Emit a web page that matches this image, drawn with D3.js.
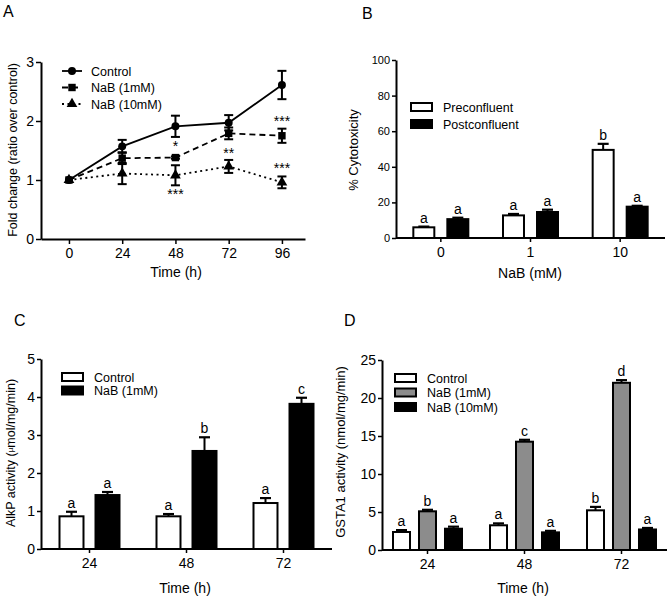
<!DOCTYPE html>
<html lang="en">
<head>
<meta charset="utf-8">
<title>NaB panels</title>
<script src="https://d3js.org/d3.v7.min.js"></script>
<style>
  body { margin: 0; background: #fff; }
  text { font-family: "Liberation Sans", Arial, sans-serif; fill: #000; }
  .axis path, .axis line { stroke: #000; }
  .axis path { stroke-width: 2px; }
  .axis line { stroke-width: 1.5px; }
</style>
</head>
<body>
<script>
// ---- Panel A: fold change over time
var timesA = [0, 24, 48, 72, 96];
var ctrlA = [1, 1.57, 1.91, 1.97, 2.61];
var ctrlErrA = [0, 0.11, 0.18, 0.13, 0.24];
var nab1A = [1, 1.37, 1.38, 1.79, 1.75];
var nab1ErrA = [0, 0.1, 0.02, 0.1, 0.12];
var nab10A = [1, 1.11, 1.08, 1.23, 0.96];
var nab10ErrA = [0, 0.18, 0.17, 0.11, 0.1];
var starsA = [[48, 1.61, "*"], [72, 1.49, "**"], [96, 2.03, "***"], [48, 0.8, "***"], [96, 1.24, "***"]];

// ---- Panel B: cytotoxicity
var catsB = ["0", "1", "10"];
var seriesB = ["Preconfluent", "Postconfluent"];
var preB = [6.0, 12.7, 49.5];
var preErrB = [0.4, 0.8, 3.4];
var postB = [10.6, 14.6, 17.6];
var postErrB = [0.8, 1.3, 0.5];
var lettersB = [["a", "a", "b"], ["a", "a", "a"]];

// ---- Panel C: AlkP activity
var catsC = ["24", "48", "72"];
var seriesC = ["Control", "NaB (1mM)"];
var ctrlC = [0.86, 0.86, 1.21];
var ctrlErrC = [0.12, 0.06, 0.13];
var nabC = [1.42, 2.58, 3.82];
var nabErrC = [0.08, 0.36, 0.16];
var lettersC = [["a", "a", "a"], ["a", "b", "c"]];

// ---- Panel D: GSTA1 activity
var catsD = ["24", "48", "72"];
var seriesD = ["Control", "NaB (1mM)", "NaB (10mM)"];
var ctrlD = [2.37, 3.25, 5.22];
var ctrlErrD = [0.25, 0.25, 0.45];
var nab1D = [5.09, 14.25, 22.0];
var nab1ErrD = [0.2, 0.25, 0.35];
var nab10D = [2.8, 2.32, 2.7];
var nab10ErrD = [0.27, 0.2, 0.2];
var lettersD = [["a", "a", "b"], ["b", "c", "d"], ["a", "a", "a"]];

var svg = d3.select("body").append("svg")
  .attr("width", 670)
  .attr("height", 600);

function panelLabel(t, x, y) {
  svg.append("text").attr("x", x).attr("y", y)
    .style("font-size", "16px").text(t);
}

function yTitle(t, x, y, size) {
  return svg.append("text")
    .attr("transform", "translate(" + x + "," + y + ") rotate(-90)")
    .attr("text-anchor", "middle")
    .style("font-size", size + "px")
    .text(t);
}

function xTitle(t, x, y) {
  svg.append("text").attr("x", x).attr("y", y)
    .attr("text-anchor", "middle")
    .style("font-size", "14px").text(t);
}

function styleAxis(g, size) {
  g.attr("class", "axis");
  g.selectAll("text").style("font-size", size + "px");
}

// ================= A =================
panelLabel("A", 3, 17);
var xA = d3.scaleLinear().domain([-12.6, 106.4]).range([41, 305]);
var yA = d3.scaleLinear().domain([0, 3]).range([239, 62]);

svg.append("g").attr("transform", "translate(0,239)")
  .call(d3.axisBottom(xA).tickValues(timesA).tickSize(5).tickSizeOuter(0).tickPadding(4))
  .call(styleAxis, 14);
svg.append("g").attr("transform", "translate(41,0)")
  .call(d3.axisLeft(yA).tickValues([0, 1, 2, 3]).tickSize(5).tickSizeOuter(0).tickPadding(2).tickFormat(d3.format("d")))
  .call(styleAxis, 14);
yTitle("Fold change (ratio over control)", 17, 150, 12.5);
xTitle("Time (h)", 176, 277);

var linesA = [
  { name: "Control", vals: ctrlA, errs: ctrlErrA, dash: null, shape: d3.symbolCircle, size: 50 },
  { name: "NaB (1mM)", vals: nab1A, errs: nab1ErrA, dash: "6,4", shape: d3.symbolSquare, size: 55 },
  { name: "NaB (10mM)", vals: nab10A, errs: nab10ErrA, dash: "2,3.5", shape: d3.symbolTriangle, size: 50 }
];
var lineGen = d3.line().x(function(d) { return xA(d[0]); }).y(function(d) { return yA(d[1]); });

linesA.slice().reverse().forEach(function(s) {
  var pts = timesA.map(function(t, i) { return [t, s.vals[i], s.errs[i]]; });
  svg.append("path").datum(pts)
    .attr("d", lineGen)
    .attr("fill", "none").attr("stroke", "#000").attr("stroke-width", 1.8)
    .attr("stroke-dasharray", s.dash);
  pts.forEach(function(p) {
    if (p[2] > 0) {
      var x = xA(p[0]), y1 = yA(p[1] - p[2]), y2 = yA(p[1] + p[2]);
      svg.append("line").attr("x1", x).attr("x2", x).attr("y1", y1).attr("y2", y2)
        .attr("stroke", "#000").attr("stroke-width", 2);
      [y1, y2].forEach(function(yy) {
        svg.append("line").attr("x1", x - 4.5).attr("x2", x + 4.5).attr("y1", yy).attr("y2", yy)
          .attr("stroke", "#000").attr("stroke-width", 2);
      });
    }
    svg.append("path")
      .attr("d", d3.symbol().type(s.shape).size(s.size))
      .attr("transform", "translate(" + xA(p[0]) + "," + yA(p[1]) + ")")
      .attr("fill", "#000");
  });
});

starsA.forEach(function(s) {
  svg.append("text").attr("x", xA(s[0])).attr("y", yA(s[1]) + 7)
    .attr("text-anchor", "middle").style("font-size", "14px").text(s[2]);
});

// legend A
linesA.forEach(function(s, i) {
  var ly = 71 + i * 16.5;
  svg.append("line").attr("x1", 62).attr("x2", 82).attr("y1", ly).attr("y2", ly)
    .attr("stroke", "#000").attr("stroke-width", 1.8).attr("stroke-dasharray", s.dash);
  svg.append("path").attr("d", d3.symbol().type(s.shape).size(s.size))
    .attr("transform", "translate(72," + ly + ")").attr("fill", "#000");
  svg.append("text").attr("x", 91).attr("y", ly + 4.5).style("font-size", "12.5px").text(s.name);
});

// ================= bar panels =================
function barPanel(opt) {
  var x = d3.scaleBand().domain(opt.cats).range(opt.xRange);
  var inner = d3.scaleBand().domain(opt.series).range(opt.innerRange).paddingInner(opt.pad);
  var y = d3.scaleLinear().domain(opt.yDomain).range(opt.yRange);

  var gx = svg.append("g").attr("transform", "translate(0," + opt.yRange[0] + ")")
    .call(d3.axisBottom(x).tickSize(4).tickSizeOuter(0).tickPadding(5))
    .call(styleAxis, 14);
  gx.select(".domain").attr("d", "M" + opt.axisX[0] + ",0H" + opt.axisX[1]);
  svg.append("g").attr("transform", "translate(" + opt.axisX[0] + ",0)")
    .call(d3.axisLeft(y).tickValues(opt.yTicks).tickSize(4).tickSizeOuter(0).tickPadding(2)
      .tickFormat(d3.format("d")))
    .call(styleAxis, opt.yTickSize);

  opt.series.forEach(function(s, si) {
    opt.cats.forEach(function(c, ci) {
      var v = opt.vals[si][ci], e = opt.errs[si][ci];
      var bx = x(c) + x.bandwidth() / 2 + inner(s);
      var bw = inner.bandwidth();
      var cx = bx + bw / 2;
      // error bar (upper only)
      svg.append("line").attr("x1", cx).attr("x2", cx).attr("y1", y(v)).attr("y2", y(v + e))
        .attr("stroke", "#000").attr("stroke-width", 2);
      svg.append("line").attr("x1", cx - 5.5).attr("x2", cx + 5.5).attr("y1", y(v + e)).attr("y2", y(v + e))
        .attr("stroke", "#000").attr("stroke-width", 2.2);
      svg.append("rect")
        .attr("x", bx + 1).attr("y", y(v))
        .attr("width", bw - 2).attr("height", y(0) - y(v))
        .attr("fill", opt.fills[si]).attr("stroke", "#000").attr("stroke-width", 2);
      svg.append("text").attr("x", cx).attr("y", y(v + e) - 4)
        .attr("text-anchor", "middle").style("font-size", "14px")
        .text(opt.letters[si][ci]);
    });
  });

  opt.series.forEach(function(s, si) {
    var ly = opt.legend[1] + si * opt.legend[2];
    svg.append("rect").attr("x", opt.legend[0]).attr("y", ly - 4)
      .attr("width", 21).attr("height", 8)
      .attr("fill", opt.fills[si]).attr("stroke", "#000").attr("stroke-width", 2);
    svg.append("text").attr("x", opt.legend[0] + 32).attr("y", ly + 4.5)
      .style("font-size", "12.5px").text(s);
  });
  return { x: x, y: y };
}

// ================= B =================
panelLabel("B", 362, 19);
barPanel({
  cats: catsB, series: seriesB,
  vals: [preB, postB], errs: [preErrB, postErrB], letters: lettersB,
  fills: ["#fff", "#000"],
  xRange: [396, 665], axisX: [396, 665], innerRange: [-28.5, 28.5], pad: 0.324,
  yDomain: [0, 100], yRange: [238, 60], yTicks: [0, 20, 40, 60, 80, 100], yTickSize: 11,
  legend: [411, 107, 17]
});
yTitle("% Cytotoxicity", 358, 150, 13);
xTitle("NaB (mM)", 530, 278);

// ================= C =================
panelLabel("C", 14, 326);
barPanel({
  cats: catsC, series: seriesC,
  vals: [ctrlC, nabC], errs: [ctrlErrC, nabErrC], letters: lettersC,
  fills: ["#fff", "#000"],
  xRange: [41, 332], axisX: [41, 332], innerRange: [-31, 31], pad: 0.278,
  yDomain: [0, 5], yRange: [549, 359], yTicks: [0, 1, 2, 3, 4, 5], yTickSize: 14,
  legend: [62, 377, 13.5]
});
var tC = yTitle("AlkP activity (", 15, 453, 12.5);
tC.append("tspan").style("font-size", "8px").attr("baseline-shift", "30%").text("µ");
tC.append("tspan").text("mol/mg/min)");
xTitle("Time (h)", 185, 593);

// ================= D =================
panelLabel("D", 344, 326);
barPanel({
  cats: catsD, series: seriesD,
  vals: [ctrlD, nab1D, nab10D], errs: [ctrlErrD, nab1ErrD, nab10ErrD], letters: lettersD,
  fills: ["#fff", "#8c8c8c", "#000"],
  xRange: [379, 670], axisX: [382, 667], innerRange: [-35.5, 35.5], pad: 0.269,
  yDomain: [0, 25], yRange: [550, 360], yTicks: [0, 5, 10, 15, 20, 25], yTickSize: 14,
  legend: [395, 378, 14.5]
});
yTitle("GSTA1 activity (nmol/mg/min)", 345, 452, 13);
xTitle("Time (h)", 523, 593);
</script>
</body>
</html>
